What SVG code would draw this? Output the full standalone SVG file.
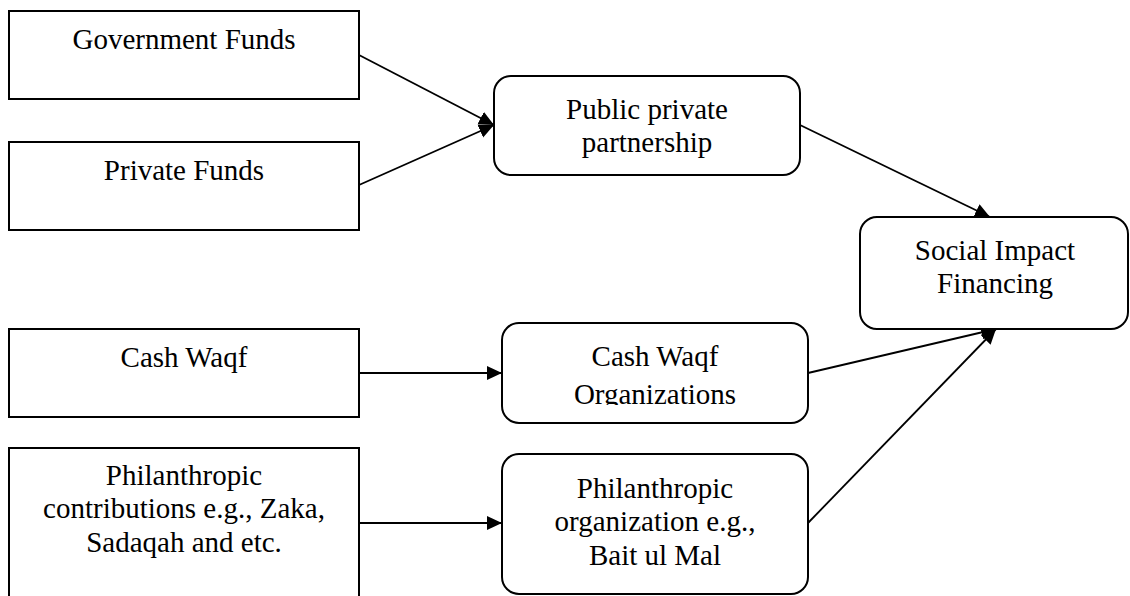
<svg xmlns="http://www.w3.org/2000/svg" width="1130" height="596" viewBox="0 0 1130 596">
<style>
.box{fill:#fff;stroke:#000;stroke-width:2}
.t{font-family:"Liberation Serif","Times New Roman",serif;font-size:29px;fill:#000;text-anchor:middle}
.c{fill:none;stroke:#000;stroke-width:1.8}
</style>
<defs>
<marker id="ah" markerUnits="userSpaceOnUse" markerWidth="16" markerHeight="16" refX="15" refY="7" orient="auto">
<path d="M0,0 L15,7 L0,14 z" fill="#000"/>
</marker>
<clipPath id="clipOrg"><rect x="502" y="323" width="306" height="82"/></clipPath>
</defs>
<rect width="1130" height="596" fill="#fff"/>
<g id="connectors">
<line class="c" x1="359" y1="55" x2="494" y2="125" marker-end="url(#ah)"/>
<line class="c" x1="359" y1="185" x2="494" y2="125" marker-end="url(#ah)"/>
<line class="c" x1="800" y1="125" x2="990" y2="217" marker-end="url(#ah)"/>
<line class="c" x1="359" y1="373" x2="502" y2="373" marker-end="url(#ah)"/>
<line class="c" x1="359" y1="523" x2="502" y2="523" marker-end="url(#ah)"/>
<line class="c" x1="808" y1="373" x2="996" y2="329" marker-end="url(#ah)"/>
<line class="c" x1="808" y1="523" x2="996" y2="329" marker-end="url(#ah)"/>
</g>
<g id="gov">
<rect class="box" x="9" y="11" width="350" height="88"/>
<text class="t" x="184" y="49">Government Funds</text>
</g>
<g id="private">
<rect class="box" x="9" y="142" width="350" height="88"/>
<text class="t" x="184" y="180">Private Funds</text>
</g>
<g id="ppp">
<rect class="box" x="494" y="76" width="306" height="99" rx="17" ry="17"/>
<text class="t" x="647" y="119">Public private</text>
<text class="t" x="647" y="152">partnership</text>
</g>
<g id="sif">
<rect class="box" x="860" y="217" width="268" height="112" rx="17" ry="17"/>
<text class="t" x="995" y="260">Social Impact</text>
<text class="t" x="995" y="293">Financing</text>
</g>
<g id="cashwaqf">
<rect class="box" x="9" y="329" width="350" height="88"/>
<text class="t" x="184" y="367">Cash Waqf</text>
</g>
<g id="cwo">
<rect class="box" x="502" y="323" width="306" height="100" rx="17" ry="17"/>
<g clip-path="url(#clipOrg)">
<text class="t" x="655" y="366">Cash Waqf</text>
<text class="t" x="655" y="404">Organizations</text>
</g>
</g>
<g id="phil">
<rect class="box" x="9" y="448" width="350" height="160"/>
<text class="t" x="184" y="485">Philanthropic</text>
<text class="t" x="184" y="518">contributions e.g., Zaka,</text>
<text class="t" x="184" y="552">Sadaqah and etc.</text>
</g>
<g id="philorg">
<rect class="box" x="502" y="454" width="306" height="140" rx="17" ry="17"/>
<text class="t" x="655" y="498">Philanthropic</text>
<text class="t" x="655" y="531">organization e.g.,</text>
<text class="t" x="655" y="565">Bait ul Mal</text>
</g>
</svg>
